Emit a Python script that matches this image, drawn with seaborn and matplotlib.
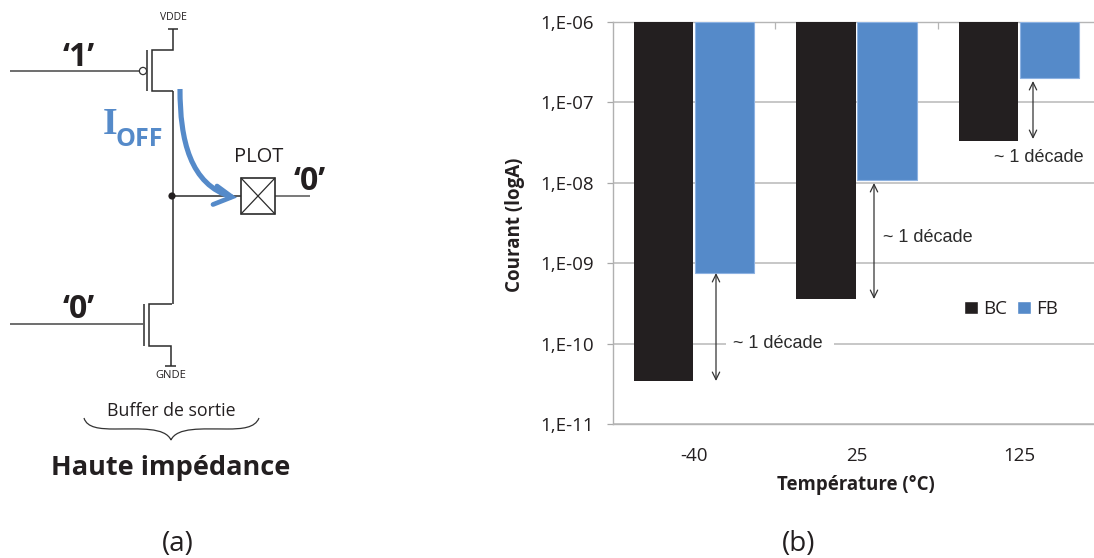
import matplotlib
matplotlib.use("Agg")
import matplotlib.pyplot as plt
from matplotlib.path import Path
from matplotlib.patches import PathPatch, Circle, Rectangle
import pandas as pd
import seaborn as sns

temperatures = ["-40", "25", "125"]
bc_values = [3.4e-11, 3.6e-10, 3.3e-8]
fb_values = [7.5e-10, 1.08e-8, 2.0e-7]
series_names = ["BC", "FB"]
y_ticks = [1e-6, 1e-7, 1e-8, 1e-9, 1e-10, 1e-11]
y_tick_labels = ["1,E-06", "1,E-07", "1,E-08", "1,E-09", "1,E-10", "1,E-11"]

BLACK = "#231f20"
BLUE = "#558ac9"
GRID = "#bdbdbd"
W, H = 1094, 558

sns.set_theme(style="white")
plt.rcParams["font.family"] = ["Open Sans", "DejaVu Sans"]

df = pd.DataFrame({
    "T": temperatures * 2,
    "I": bc_values + fb_values,
    "S": [series_names[0]] * 3 + [series_names[1]] * 3,
})

fig = plt.figure(figsize=(W / 100, H / 100), dpi=100, facecolor="white")
L, R, T, B = 612.5, 1100.5, 22, 424
ax = fig.add_axes([L / W, 1 - B / H, (R - L) / W, (B - T) / H])
sns.barplot(data=df, x="T", y="I", hue="S", order=temperatures, hue_order=series_names,
            palette=[BLACK, BLUE], saturation=1, width=0.75, gap=0.03, ax=ax, legend=False,
            linewidth=0.8, edgecolor="none", zorder=3)
ax.set_yscale("log")
ax.set_ylim(1e-11, 1e-6)
ax.set_xlim(-0.5, 2.5)
# Bars hang from the top of the axis, as in the spreadsheet original
bars = [p for c in ax.containers for p in c]
for p, v in zip(bars, bc_values + fb_values):
    p.set_y(v)
    p.set_height(1e-6 - v)
for p in bars[3:]:
    p.set_edgecolor("#8db2e2")

ax.set_yticks(y_ticks)
ax.set_yticklabels(y_tick_labels)
ax.minorticks_off()
ax.tick_params(axis="y", length=4.5, width=0.9, color="#a8a8a8", labelsize=13.5, labelcolor=BLACK, pad=9, left=True)
ax.set_xticks([0, 1, 2])
ax.set_xticklabels(temperatures)
ax.tick_params(axis="x", length=0, labelsize=13.5, labelcolor=BLACK, pad=16.5)
ax.set_xticks([0.5, 1.5], minor=True)
ax.tick_params(axis="x", which="minor", top=True, bottom=False, direction="in", length=5, width=0.9, color="#b5b5b5")
ax.yaxis.grid(True, color=GRID, lw=1.2, zorder=0)
ax.set_axisbelow(True)
for s in ["top", "bottom"]:
    ax.spines[s].set_color("#b5b5b5")
    ax.spines[s].set_linewidth(1.0)
ax.spines["left"].set_color("#b0b0b0")
ax.spines["left"].set_linewidth(1.0)
ax.spines["right"].set_visible(False)
ax.set_xlabel("")
ax.set_ylabel("")

# Overlay in pixel coordinates for the schematic and the annotations
ov = fig.add_axes([0, 0, 1, 1], facecolor="none")
ov.set_xlim(0, W)
ov.set_ylim(H, 0)
ov.axis("off")


def poly(xs, ys, lw=1.1, color="#2b2b2b", **k):
    ov.plot(xs, ys, color=color, lw=lw, solid_capstyle="butt", solid_joinstyle="miter", **k)


GREY = "#555555"
# PMOS
poly([10, 139], [71, 71], lw=1.2, color=GREY)
ov.add_patch(Circle((143, 71), 3.6, fc="white", ec="#333333", lw=0.9, zorder=3))
poly([146.5, 146.5], [50, 91])
poly([173, 173, 152, 152, 172.5], [29, 50, 50, 91, 91])
poly([168, 178], [29, 29])
# Vertical node
poly([172.5, 172.5], [91, 303.5])
ov.add_patch(Circle((172, 196), 3.6, fc=BLACK, ec="none", zorder=3))
poly([172, 241], [196, 196])
poly([275, 310], [196, 196], color=GREY)
# Pad
ov.add_patch(Rectangle((241, 178), 34, 36, fc="white", ec="#2b2b2b", lw=1.2, zorder=2))
poly([241, 275], [178, 214], lw=0.9)
poly([241, 275], [214, 178], lw=0.9)
# NMOS
poly([10, 143], [324, 324], lw=1.2, color=GREY)
poly([144, 144], [304, 346])
poly([172, 149, 149, 170.5, 170.5], [303.5, 303.5, 346, 346, 366])
poly([165, 176], [366, 366])
# Current arrow
arrow_path = Path([(180, 89), (180, 140), (190, 185), (232, 197)],
                  [Path.MOVETO, Path.CURVE4, Path.CURVE4, Path.CURVE4])
ov.add_patch(PathPatch(arrow_path, fc="none", ec=BLUE, lw=3.7, capstyle="butt", zorder=5))
ov.plot([217, 232, 213], [186, 197, 204.5], color=BLUE, lw=3.4, solid_capstyle="round",
        solid_joinstyle="miter", zorder=5)
# Brace
brace = Path([(84, 418), (87, 428), (100, 429), (115, 429), (140, 429), (165, 427), (171, 440),
              (177, 427), (202, 429), (227, 429), (242, 429), (255, 428), (259, 418)],
             [Path.MOVETO] + [Path.CURVE4] * 12)
ov.add_patch(PathPatch(brace, fc="none", ec="#333333", lw=0.9))

# Text of the schematic
txt = dict(color=BLACK, ha="center", va="center")
ov.text(173, 18, "VDDE", fontsize=7.5, **txt)
ov.text(171, 376, "GNDE", fontsize=8, **txt)
ov.text(79, 57, "‘1’", fontsize=23, fontweight="bold", **txt)
ov.text(79, 310, "‘0’", fontsize=23, fontweight="bold", **txt)
ov.text(310, 181, "‘0’", fontsize=23, fontweight="bold", **txt)
ov.text(259, 157, "PLOT", fontsize=14.5, **txt)
ov.text(110, 125, "I", fontsize=27, fontweight="bold", family="Liberation Serif", color=BLUE, ha="center", va="center")
ov.text(139, 139, "OFF", fontsize=18, fontweight="bold", color=BLUE, ha="center", va="center")
ov.text(171, 410.5, "Buffer de sortie", fontsize=12.8, **txt)
ov.text(171, 468, "Haute impédance", fontsize=19.5, fontweight="bold", **txt)
ov.text(178, 544, "(a)", fontsize=20, **txt)
ov.text(799, 544, "(b)", fontsize=20, **txt)

# Axis titles
ov.text(515, 225, "Courant (logA)", fontsize=13.5, fontweight="bold", rotation=90, **txt)
ov.text(856, 485, "Température (°C)", fontsize=13.4, fontweight="bold", **txt)

# Decade annotations
ann = dict(fontsize=13, family="Liberation Sans", color="#2b2b2b", ha="center", va="center", zorder=8)
arrow = dict(arrowstyle="<->,head_length=0.45,head_width=0.22", color="#333333", lw=0.9, shrinkA=0, shrinkB=0)
ov.add_patch(Rectangle((726, 333), 108, 20, fc="white", ec="none", zorder=1))
ov.text(778, 344, "~ 1 décade", **ann)
ov.annotate("", xy=(716, 273), xytext=(716, 381), arrowprops=arrow)
ov.text(928, 237, "~ 1 décade", **ann)
ov.annotate("", xy=(874, 183), xytext=(874, 299), arrowprops=arrow)
ov.text(1039, 158, "~ 1 décade", **ann)
ov.annotate("", xy=(1033, 81), xytext=(1033, 139), arrowprops=arrow)

# Legend
handles = [Rectangle((0, 0), 1, 1, fc=BLACK), Rectangle((0, 0), 1, 1, fc=BLUE)]
ax.legend(handles, series_names, ncol=2, frameon=False, fontsize=13.5, labelcolor=BLACK,
          loc="center", bbox_to_anchor=((1011 - L) / (R - L), (B - 309) / (B - T)),
          handlelength=0.75, handleheight=0.75, handletextpad=0.25, columnspacing=0.55)

fig.savefig("out.png", dpi=100)
